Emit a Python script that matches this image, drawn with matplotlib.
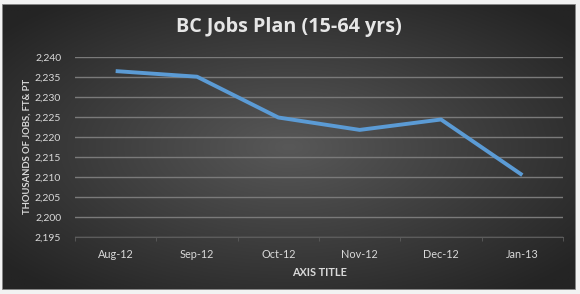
import numpy as np
import matplotlib
matplotlib.use('Agg')
from matplotlib import pyplot as plt
from matplotlib.patches import Rectangle

# 数据
months = ['Aug-12', 'Sep-12', 'Oct-12', 'Nov-12', 'Dec-12', 'Jan-13']
jobs = [2236.4, 2235.0, 2224.8, 2221.7, 2224.3, 2210.4]
y_ticks = [2195, 2200, 2205, 2210, 2215, 2220, 2225, 2230, 2235, 2240]

plt.rcParams['font.family'] = ['Lato', 'DejaVu Sans']

W, H = 580, 294
fig = plt.figure(figsize=(W / 100, H / 100), dpi=100)
fig.patch.set_facecolor('#f2f2f2')

# 背景渐变
x0, y0, x1, y1 = 2 / W, 1 - 290 / H, 576 / W, 1 - 4 / H
bg = fig.add_axes([x0, y0, x1 - x0, y1 - y0])
gx, gy = np.meshgrid(np.linspace(-1, 1, 400), np.linspace(-1, 1, 200))
r = np.clip(np.sqrt(gx ** 2 + gy ** 2) / 1.3, 0, 1)
c_in, c_out = 0x58 / 255, 0x24 / 255
img = c_in + (c_out - c_in) * r
bg.imshow(np.dstack([img] * 3), aspect='auto', extent=[0, 1, 0, 1])
bg.add_patch(Rectangle((0, 0), 1, 1, fill=False, edgecolor='#9a9a9a', lw=1.2))
bg.set_axis_off()

# 主图
ax = fig.add_axes([75 / W, 1 - 236.7 / H, (563 - 75) / W, (236.7 - 56.7) / H])
ax.patch.set_alpha(0)
x = np.arange(len(months))
ax.plot(x, jobs, color='#5b9bd5', lw=2.8, solid_capstyle='butt', zorder=3)

ax.set_xlim(-0.5, len(months) - 0.5)
ax.set_ylim(2195, 2240)
ax.set_yticks(y_ticks)
ax.set_yticklabels(['{:,}'.format(v) for v in y_ticks])
ax.set_xticks(x)
ax.set_xticklabels(months)
ax.set_xticks(np.arange(-0.5, len(months), 1), minor=True)
ax.grid(axis='y', color='#7a7a7a', lw=1)
for s in ['top', 'right', 'left']:
    ax.spines[s].set_visible(False)
ax.spines['bottom'].set_color('#5c5c5c')
ax.tick_params(axis='y', length=0, pad=10, labelsize=7.5, colors='#d9d9d9')
ax.tick_params(axis='x', which='major', length=0, pad=9, labelsize=7.8, colors='#d9d9d9')
ax.tick_params(axis='x', which='minor', length=3, color='#5c5c5c')

ax.set_xlabel('AXIS TITLE', fontsize=7.8, fontweight='bold', color='#d9d9d9', labelpad=5)
ax.set_ylabel('THOUSANDS OF JOBS, FT& PT', fontsize=6.8, fontweight='bold', color='#d9d9d9', labelpad=2)

fig.text(0.498, 1 - 27 / H, 'BC Jobs Plan (15-64 yrs)', ha='center', va='center',
         fontsize=14.2, fontweight='bold', color='#e6e6e6', family=['Open Sans', 'DejaVu Sans'])

plt.savefig('out.png', dpi=100, facecolor=fig.get_facecolor())
